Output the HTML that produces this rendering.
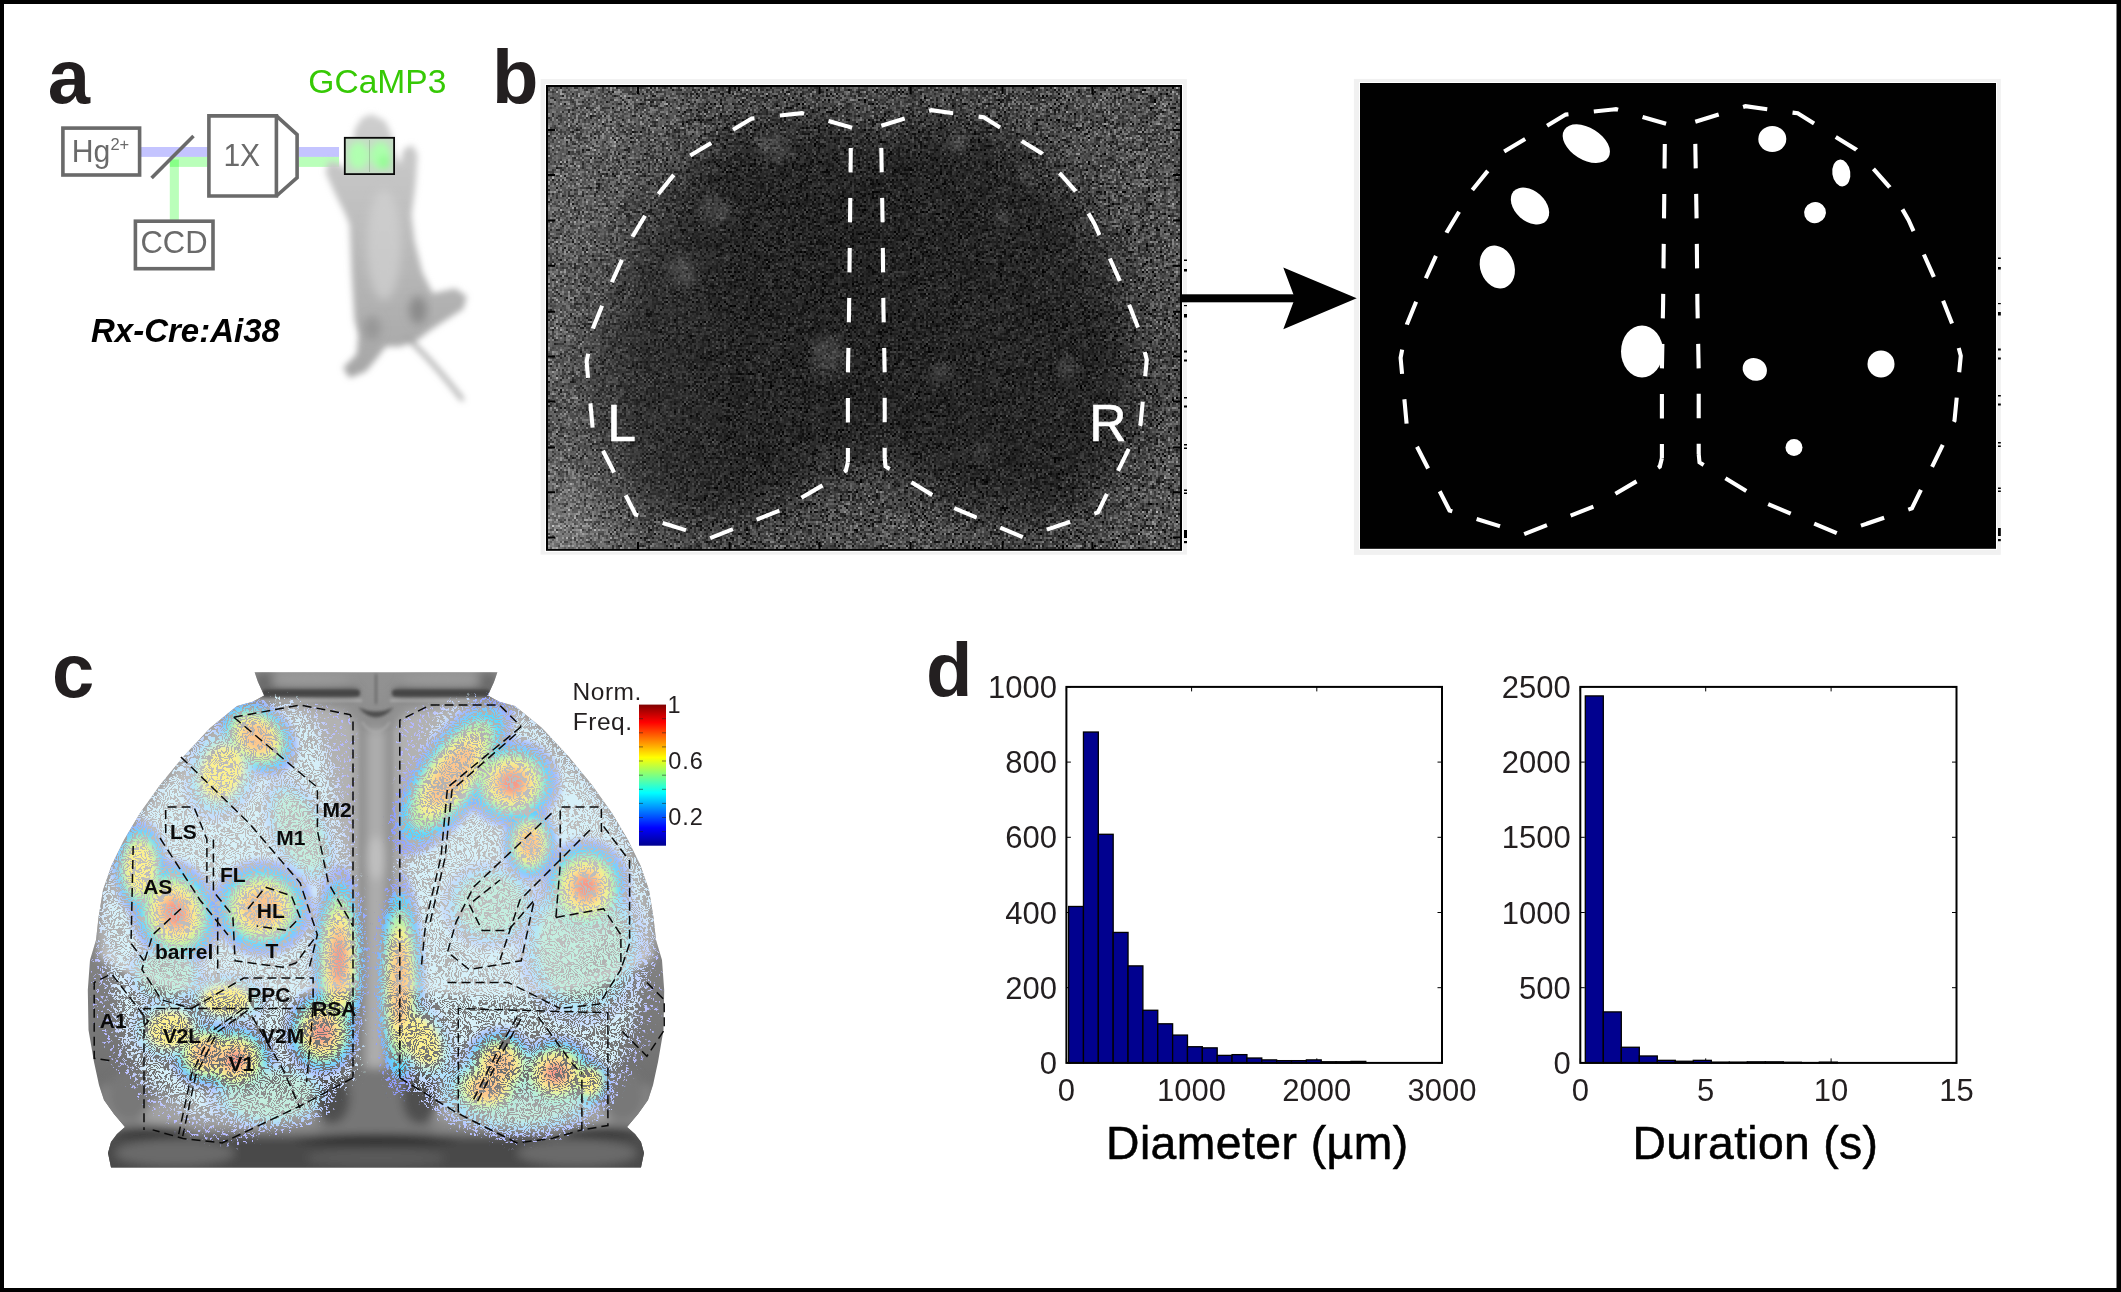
<!DOCTYPE html>
<html><head><meta charset="utf-8"><title>figure</title>
<style>
html,body{margin:0;padding:0;background:#fff;}
body{width:2121px;height:1292px;overflow:hidden;font-family:"Liberation Sans",sans-serif;}
svg{display:block;position:absolute;left:0;top:0;}
text{font-family:"Liberation Sans",sans-serif;}
</style></head><body>
<svg width="2121" height="1292" viewBox="0 0 2121 1292" style="opacity:0.9999">
<defs>
<filter id="noise" x="548" y="87" width="632" height="462" filterUnits="userSpaceOnUse" primitiveUnits="userSpaceOnUse" color-interpolation-filters="sRGB">
<feTurbulence type="fractalNoise" baseFrequency="0.737" numOctaves="2" seed="7" result="t"/>
<feColorMatrix in="t" type="matrix" values="1.18 0 0 0 -0.265  1.18 0 0 0 -0.265  1.18 0 0 0 -0.265  0 0 0 0 1" result="g"/>
<feFlood x="548" y="87" width="1" height="1" flood-color="#000" result="dot"/>
<feComposite in="dot" in2="dot" operator="over" x="548" y="87" width="2" height="2" result="cell"/>
<feTile in="cell" x="548" y="87" width="632" height="462" result="grid"/>
<feComposite in="g" in2="grid" operator="in" result="s"/>
<feOffset in="s" dx="1" dy="0" result="s1"/>
<feOffset in="s" dx="0" dy="1" result="s2"/>
<feOffset in="s" dx="1" dy="1" result="s3"/>
<feMerge result="pix"><feMergeNode in="s"/><feMergeNode in="s1"/><feMergeNode in="s2"/><feMergeNode in="s3"/></feMerge>
<feGaussianBlur in="pix" stdDeviation="0.35"/>
</filter>
<radialGradient id="dark" cx="0.5" cy="0.5" r="0.75">
<stop offset="0" stop-color="#000" stop-opacity="0.12"/>
<stop offset="0.7" stop-color="#000" stop-opacity="0.08"/>
<stop offset="1" stop-color="#000" stop-opacity="0"/>
</radialGradient>
<linearGradient id="lb" x1="0" y1="0" x2="1" y2="0"><stop offset="0" stop-color="#fff" stop-opacity="0.1"/><stop offset="1" stop-color="#fff" stop-opacity="0"/></linearGradient>
<filter id="nop" x="-5%" y="-20%" width="110%" height="140%"><feOffset dx="0" dy="0"/></filter>
<filter id="blur3"><feGaussianBlur stdDeviation="3"/></filter>
<filter id="blur5"><feGaussianBlur stdDeviation="5"/></filter>
<filter id="blur8"><feGaussianBlur stdDeviation="8"/></filter>
<filter id="blur25" x="-20%" y="-20%" width="140%" height="140%"><feGaussianBlur stdDeviation="26"/></filter>
<filter id="blur12"><feGaussianBlur stdDeviation="12"/></filter>
<linearGradient id="jet" x1="0" y1="1" x2="0" y2="0">
<stop offset="0" stop-color="#00008f"/><stop offset="0.125" stop-color="#0000ff"/><stop offset="0.375" stop-color="#00ffff"/><stop offset="0.625" stop-color="#ffff00"/><stop offset="0.875" stop-color="#ff0000"/><stop offset="1" stop-color="#800000"/>
</linearGradient>
</defs>

<rect x="0" y="0" width="2121" height="1292" fill="#000"/>
<rect x="4" y="4" width="2112.5" height="1284" fill="#fff"/>
<text x="47.7" y="103.4" font-size="76" font-weight="bold" fill="#231f20">a</text>
<text x="491.9" y="103.3" font-size="76" font-weight="bold" fill="#231f20">b</text>
<text x="51.9" y="697.4" font-size="76" font-weight="bold" fill="#231f20">c</text>
<text x="925.9" y="695.8" font-size="76" font-weight="bold" fill="#231f20">d</text>
<rect x="141" y="147" width="67" height="9.9" fill="#0000ff" fill-opacity="0.23"/>
<rect x="299" y="147" width="40" height="9.9" fill="#0000ff" fill-opacity="0.23"/>
<rect x="169.8" y="156.9" width="38" height="10" fill="#00ff00" fill-opacity="0.27"/>
<rect x="299" y="156.9" width="40" height="10" fill="#00ff00" fill-opacity="0.27"/>
<rect x="169.8" y="159.5" width="9.1" height="61" fill="#00ff00" fill-opacity="0.27"/>
<rect x="62.9" y="128.1" width="76.7" height="46.9" fill="#fff" stroke="#6a6a6a" stroke-width="3.6"/>
<rect x="135.4" y="221.2" width="77.6" height="47.5" fill="#fff" stroke="#6a6a6a" stroke-width="3.6"/>
<path d="M276.4 115.9 L297.1 134.6 V177.6 L276.4 196" fill="#fff" stroke="#6a6a6a" stroke-width="3.6" stroke-linejoin="miter"/>
<path d="M208.9 115.9 H276.4 V196 H208.9 Z" fill="#fff" stroke="#6a6a6a" stroke-width="3.6"/>
<line x1="193.5" y1="136.1" x2="151.6" y2="178.1" stroke="#6a6a6a" stroke-width="3.6"/>
<g filter="url(#nop)">
<text transform="translate(71.8 161.9) scale(1 1.04)" font-size="30.2" fill="#6a6a6a">Hg<tspan font-size="16.5" dy="-11">2+</tspan></text>
<text transform="translate(140.4 253.3) scale(1 1.02)" font-size="31" fill="#6a6a6a">CCD</text>
<text transform="translate(223.4 166.2) scale(1 1.06)" font-size="30" fill="#6a6a6a">1X</text>
<text x="308.3" y="92.6" font-size="33.6" fill="#36c905">GCaMP3</text>
<text x="91" y="341.5" font-size="33" font-weight="bold" font-style="italic" fill="#000">Rx-Cre:Ai38</text>
</g>
<linearGradient id="mg" x1="0" y1="0" x2="0" y2="1"><stop offset="0" stop-color="#cecece"/><stop offset="0.5" stop-color="#bababa"/><stop offset="1" stop-color="#a6a6a6"/></linearGradient>
<g filter="url(#blur3)">
<path d="M372 116 L384 122 L390 135 L392 150 L400 170 L405 150 L412 147 L416 155 L414 185 L410 215 L413 240 L421 273 L432 295 L455 290 L465 297 L462 308 L440 322 L428 330 L415 340 L400 345 L385 345 L375 358 L365 370 L350 376 L345 368 L358 355 L360 335 L356 320 L353 273 L351 224 L345 210 L335 190 L327 172 L330 163 L340 166 L350 175 L354 150 L356 130 L363 119 Z" fill="url(#mg)" stroke="url(#mg)" stroke-width="3" stroke-linejoin="round"/>
<path d="M406 337 Q430 358 462 399" fill="none" stroke="#a4a4a4" stroke-width="4" stroke-linecap="round"/>
</g>
<g filter="url(#blur5)"><ellipse cx="418" cy="310" rx="9" ry="14" fill="#7a7a7a" fill-opacity="0.7"/><ellipse cx="372" cy="328" rx="9" ry="12" fill="#888" fill-opacity="0.6"/><ellipse cx="384" cy="245" rx="17" ry="55" fill="#d2d2d2" fill-opacity="0.7"/></g>
<rect x="345" y="138" width="49" height="36" fill="#c6dcc6"/>
<g filter="url(#blur3)"><ellipse cx="358.5" cy="155.5" rx="10" ry="13.5" fill="#b0ffb0"/><ellipse cx="380.5" cy="155.5" rx="10" ry="13.5" fill="#acffac"/><ellipse cx="384" cy="162" rx="6" ry="7" fill="#98fb98"/></g>
<line x1="369.5" y1="140" x2="369.5" y2="172" stroke="#7fa07f" stroke-width="0.7" stroke-opacity="0.7"/>
<rect x="344.8" y="137.8" width="49.3" height="36.3" fill="none" stroke="#0a0a0a" stroke-width="1.8"/>
<rect x="540.6" y="79.1" width="646.3" height="475.5" fill="#f1f1f1"/>
<rect x="545" y="84" width="638" height="467.8" fill="#fff"/>
<rect x="546" y="85" width="636" height="465.8" fill="#000"/>
<svg x="548" y="87" width="632" height="462" viewBox="548 87 632 462"><rect x="548" y="87" width="632" height="462" filter="url(#noise)"/><g filter="url(#blur25)" fill="#000" fill-opacity="0.5"><path d="M852.1 127.8 L801.9 113.2 L751.7 118.6 L689.0 156.2 L657.7 194.7 L632.6 236.5 L611.7 282.5 L592.9 328.4 L586.6 361.9 L592.9 430.9 L635.5 514.5 L684.8 529.9 L709.9 538.3 L780.2 510.3 L822.8 485.2 L845.8 470.6 L847.9 462.2 Z"/><path d="M881.3 125.7 L931.5 110.2 L983.7 117.3 L1042.3 153.7 L1075.7 191.3 L1094.5 223.9 L1119.6 280.4 L1138.4 328.4 L1146.8 359.8 L1140.5 424.6 L1097.9 512.4 L1023.5 537.5 L952.4 507.4 L885.5 466.4 L884.7 458.0 Z"/><rect x="846" y="135" width="42" height="335"/></g><rect x="548" y="87" width="632" height="462" fill="url(#dark)"/><g filter="url(#blur5)" fill="#fff" fill-opacity="0.13"><ellipse cx="772" cy="148" rx="20" ry="12" transform="rotate(32 772 148)"/><ellipse cx="716" cy="210" rx="17" ry="12" transform="rotate(42 716 210)"/><ellipse cx="683" cy="271" rx="13" ry="17" transform="rotate(-20 683 271)"/><ellipse cx="828" cy="355" rx="16" ry="20" transform="rotate(0 828 355)"/><ellipse cx="958" cy="143" rx="11" ry="10" transform="rotate(0 958 143)"/><ellipse cx="1027" cy="177" rx="7" ry="10" transform="rotate(0 1027 177)"/><ellipse cx="1001" cy="217" rx="9" ry="8" transform="rotate(0 1001 217)"/><ellipse cx="941" cy="373" rx="10" ry="9" transform="rotate(0 941 373)"/><ellipse cx="1067" cy="368" rx="10" ry="10" transform="rotate(0 1067 368)"/><ellipse cx="980" cy="451" rx="7" ry="7" transform="rotate(0 980 451)"/></g><rect x="548" y="87" width="200" height="462.5" fill="url(#lb)"/><ellipse cx="548" cy="549" rx="60" ry="70" fill="#fff" fill-opacity="0.14" filter="url(#blur25)"/></svg>
<path d="M638 87 v7 M638 549 v-7" stroke="#000" stroke-width="2"/>
<path d="M729.6 87 v7 M729.6 549 v-7" stroke="#000" stroke-width="2"/>
<path d="M819.5 87 v7 M819.5 549 v-7" stroke="#000" stroke-width="2"/>
<path d="M910.6 87 v7 M910.6 549 v-7" stroke="#000" stroke-width="2"/>
<path d="M1002.6 87 v7 M1002.6 549 v-7" stroke="#000" stroke-width="2"/>
<path d="M1092.4 87 v7 M1092.4 549 v-7" stroke="#000" stroke-width="2"/>
<path d="M548 129.9 h7 M1180 129.9 h-7" stroke="#000" stroke-width="2"/>
<path d="M548 175 h7 M1180 175 h-7" stroke="#000" stroke-width="2"/>
<path d="M548 220.6 h7 M1180 220.6 h-7" stroke="#000" stroke-width="2"/>
<path d="M548 265.7 h7 M1180 265.7 h-7" stroke="#000" stroke-width="2"/>
<path d="M548 311.7 h7 M1180 311.7 h-7" stroke="#000" stroke-width="2"/>
<path d="M548 356.5 h7 M1180 356.5 h-7" stroke="#000" stroke-width="2"/>
<path d="M548 401.6 h7 M1180 401.6 h-7" stroke="#000" stroke-width="2"/>
<path d="M548 447.6 h7 M1180 447.6 h-7" stroke="#000" stroke-width="2"/>
<path d="M548 492.3 h7 M1180 492.3 h-7" stroke="#000" stroke-width="2"/>
<path d="M548 537.5 h7 M1180 537.5 h-7" stroke="#000" stroke-width="2"/>
<rect x="1353.9" y="78.9" width="646.9" height="476" fill="#f1f1f1"/>
<rect x="1359" y="82" width="638" height="467.8" fill="#fff"/>
<rect x="1360" y="83" width="636" height="465.8" fill="#000"/>
<g fill="#fff">
<clipPath id="bc"><rect x="1600" y="300" width="62" height="100"/></clipPath>
<g><ellipse cx="1586.3" cy="143.7" rx="26" ry="16" transform="rotate(32 1586.3 143.7)"/></g>
<g><ellipse cx="1530" cy="206" rx="22" ry="15" transform="rotate(42 1530 206)"/></g>
<g><ellipse cx="1497.3" cy="267" rx="17" ry="22" transform="rotate(-20 1497.3 267)"/></g>
<g clip-path="url(#bc)"><ellipse cx="1642" cy="351.4" rx="21" ry="26" transform="rotate(0 1642 351.4)"/></g>
<g><ellipse cx="1772.3" cy="139" rx="14" ry="13" transform="rotate(0 1772.3 139)"/></g>
<g><ellipse cx="1841.3" cy="173" rx="9" ry="13.5" transform="rotate(-8 1841.3 173)"/></g>
<g><ellipse cx="1815" cy="212.6" rx="11" ry="10.5" transform="rotate(-20 1815 212.6)"/></g>
<g><ellipse cx="1754.8" cy="369.4" rx="12.5" ry="11" transform="rotate(30 1754.8 369.4)"/></g>
<g><ellipse cx="1881" cy="364" rx="13.5" ry="13.5" transform="rotate(0 1881 364)"/></g>
<g><ellipse cx="1794" cy="447.5" rx="8.5" ry="8.5" transform="rotate(0 1794 447.5)"/></g>
</g>
<path d="M852.1 127.8 L801.9 113.2 L751.7 118.6 L689.0 156.2 L657.7 194.7 L632.6 236.5 L611.7 282.5 L592.9 328.4 L586.6 361.9 L592.9 430.9 L635.5 514.5 L684.8 529.9 L709.9 538.3 L780.2 510.3 L822.8 485.2 L845.8 470.6 L847.9 462.2" fill="none" stroke="#fff" stroke-width="4.1" stroke-dasharray="24.5 25.5"/>
<path d="M881.3 125.7 L931.5 110.2 L983.7 117.3 L1042.3 153.7 L1075.7 191.3 L1094.5 223.9 L1119.6 280.4 L1138.4 328.4 L1146.8 359.8 L1140.5 424.6 L1097.9 512.4 L1023.5 537.5 L952.4 507.4 L885.5 466.4 L884.7 458.0" fill="none" stroke="#fff" stroke-width="4.1" stroke-dasharray="24.5 25.5"/>
<path d="M850.8 147.9 L850.0 223.9 L849.1 307.5 L847.9 374.4 L847.9 462.2" fill="none" stroke="#fff" stroke-width="4.1" stroke-dasharray="24.5 25.5"/>
<path d="M881.3 147.9 L882.6 223.9 L883.4 307.5 L884.7 374.4 L884.7 458.0" fill="none" stroke="#fff" stroke-width="4.1" stroke-dasharray="24.5 25.5"/>
<path d="M1666.1 123.8 L1615.9 109.2 L1565.7 114.6 L1503.0 152.2 L1471.7 190.7 L1446.6 232.5 L1425.7 278.5 L1406.9 324.4 L1400.6 357.9 L1406.9 426.9 L1449.5 510.5 L1498.8 525.9 L1523.9 534.3 L1594.2 506.3 L1636.8 481.2 L1659.8 466.6 L1661.9 458.2" fill="none" stroke="#fff" stroke-width="4.1" stroke-dasharray="24.5 25.5"/>
<path d="M1695.3 121.7 L1745.5 106.2 L1797.7 113.3 L1856.3 149.7 L1889.7 187.3 L1908.5 219.9 L1933.6 276.4 L1952.4 324.4 L1960.8 355.8 L1954.5 420.6 L1911.9 508.4 L1837.5 533.5 L1766.4 503.4 L1699.5 462.4 L1698.7 454.0" fill="none" stroke="#fff" stroke-width="4.1" stroke-dasharray="24.5 25.5"/>
<path d="M1664.8 143.9 L1664.0 219.9 L1663.1 303.5 L1661.9 370.4 L1661.9 458.2" fill="none" stroke="#fff" stroke-width="4.1" stroke-dasharray="24.5 25.5"/>
<path d="M1695.3 143.9 L1696.6 219.9 L1697.4 303.5 L1698.7 370.4 L1698.7 454.0" fill="none" stroke="#fff" stroke-width="4.1" stroke-dasharray="24.5 25.5"/>
<rect x="1184" y="259.5" width="3" height="1.5" fill="#000"/>
<rect x="1998" y="257.5" width="2.8" height="1.5" fill="#000"/>
<rect x="1184" y="269" width="3" height="2.5" fill="#000"/>
<rect x="1998" y="267" width="2.8" height="2.5" fill="#000"/>
<rect x="1184" y="305" width="3" height="1.2" fill="#000"/>
<rect x="1998" y="303" width="2.8" height="1.2" fill="#000"/>
<rect x="1184" y="314" width="3" height="3.5" fill="#000"/>
<rect x="1998" y="312" width="2.8" height="3.5" fill="#000"/>
<rect x="1184" y="350.5" width="3" height="2" fill="#000"/>
<rect x="1998" y="348.5" width="2.8" height="2" fill="#000"/>
<rect x="1184" y="359.5" width="3" height="2" fill="#000"/>
<rect x="1998" y="357.5" width="2.8" height="2" fill="#000"/>
<rect x="1184" y="397" width="3" height="1.5" fill="#000"/>
<rect x="1998" y="395" width="2.8" height="1.5" fill="#000"/>
<rect x="1184" y="405.5" width="3" height="2" fill="#000"/>
<rect x="1998" y="403.5" width="2.8" height="2" fill="#000"/>
<rect x="1184" y="444" width="3" height="1.5" fill="#000"/>
<rect x="1998" y="442" width="2.8" height="1.5" fill="#000"/>
<rect x="1184" y="447.5" width="3" height="1.5" fill="#000"/>
<rect x="1998" y="445.5" width="2.8" height="1.5" fill="#000"/>
<rect x="1184" y="489.5" width="3" height="1.5" fill="#000"/>
<rect x="1998" y="487.5" width="2.8" height="1.5" fill="#000"/>
<rect x="1184" y="492.5" width="3" height="1.5" fill="#000"/>
<rect x="1998" y="490.5" width="2.8" height="1.5" fill="#000"/>
<rect x="1184" y="530" width="3" height="8" fill="#000"/>
<rect x="1998" y="528" width="2.8" height="8" fill="#000"/>
<rect x="1184" y="541" width="3" height="2.2" fill="#000"/>
<rect x="1998" y="539" width="2.8" height="2.2" fill="#000"/>
<text x="607.3" y="441.3" font-size="51.6" fill="#fff" stroke="#fff" stroke-width="0.6">L</text>
<text x="1089.3" y="441.3" font-size="51.6" fill="#fff" stroke="#fff" stroke-width="0.6">R</text>
<rect x="1182" y="294.3" width="114" height="8" fill="#000"/>
<path d="M1283.3 267.4 L1356.7 298.3 L1283.3 329.2 L1294.9 298.3 Z" fill="#000"/>
<line x1="1066.4" y1="1062.9" x2="1066.4" y2="1058.4" stroke="#000" stroke-width="1"/>
<line x1="1066.4" y1="686.9" x2="1066.4" y2="691.4" stroke="#000" stroke-width="1"/>
<text x="1066.4" y="1100.5" font-size="31" text-anchor="middle" fill="#231f20">0</text>
<line x1="1191.6" y1="1062.9" x2="1191.6" y2="1058.4" stroke="#000" stroke-width="1"/>
<line x1="1191.6" y1="686.9" x2="1191.6" y2="691.4" stroke="#000" stroke-width="1"/>
<text x="1191.6" y="1100.5" font-size="31" text-anchor="middle" fill="#231f20">1000</text>
<line x1="1316.8" y1="1062.9" x2="1316.8" y2="1058.4" stroke="#000" stroke-width="1"/>
<line x1="1316.8" y1="686.9" x2="1316.8" y2="691.4" stroke="#000" stroke-width="1"/>
<text x="1316.8" y="1100.5" font-size="31" text-anchor="middle" fill="#231f20">2000</text>
<line x1="1442.0" y1="1062.9" x2="1442.0" y2="1058.4" stroke="#000" stroke-width="1"/>
<line x1="1442.0" y1="686.9" x2="1442.0" y2="691.4" stroke="#000" stroke-width="1"/>
<text x="1442.0" y="1100.5" font-size="31" text-anchor="middle" fill="#231f20">3000</text>
<line x1="1066.4" y1="1062.9" x2="1070.9" y2="1062.9" stroke="#000" stroke-width="1"/>
<line x1="1442" y1="1062.9" x2="1437.5" y2="1062.9" stroke="#000" stroke-width="1"/>
<text x="1056.9" y="1073.9" font-size="31" text-anchor="end" fill="#231f20">0</text>
<line x1="1066.4" y1="987.7" x2="1070.9" y2="987.7" stroke="#000" stroke-width="1"/>
<line x1="1442" y1="987.7" x2="1437.5" y2="987.7" stroke="#000" stroke-width="1"/>
<text x="1056.9" y="998.7" font-size="31" text-anchor="end" fill="#231f20">200</text>
<line x1="1066.4" y1="912.5" x2="1070.9" y2="912.5" stroke="#000" stroke-width="1"/>
<line x1="1442" y1="912.5" x2="1437.5" y2="912.5" stroke="#000" stroke-width="1"/>
<text x="1056.9" y="923.5" font-size="31" text-anchor="end" fill="#231f20">400</text>
<line x1="1066.4" y1="837.3" x2="1070.9" y2="837.3" stroke="#000" stroke-width="1"/>
<line x1="1442" y1="837.3" x2="1437.5" y2="837.3" stroke="#000" stroke-width="1"/>
<text x="1056.9" y="848.3" font-size="31" text-anchor="end" fill="#231f20">600</text>
<line x1="1066.4" y1="762.1" x2="1070.9" y2="762.1" stroke="#000" stroke-width="1"/>
<line x1="1442" y1="762.1" x2="1437.5" y2="762.1" stroke="#000" stroke-width="1"/>
<text x="1056.9" y="773.1" font-size="31" text-anchor="end" fill="#231f20">800</text>
<line x1="1066.4" y1="686.9" x2="1070.9" y2="686.9" stroke="#000" stroke-width="1"/>
<line x1="1442" y1="686.9" x2="1437.5" y2="686.9" stroke="#000" stroke-width="1"/>
<text x="1056.9" y="697.9" font-size="31" text-anchor="end" fill="#231f20">1000</text>
<rect x="1068.60" y="906.48" width="14.86" height="156.42" fill="#00008f" stroke="#000" stroke-width="1.3"/>
<rect x="1083.46" y="732.02" width="14.86" height="330.88" fill="#00008f" stroke="#000" stroke-width="1.3"/>
<rect x="1098.32" y="834.29" width="14.86" height="228.61" fill="#00008f" stroke="#000" stroke-width="1.3"/>
<rect x="1113.18" y="932.43" width="14.86" height="130.47" fill="#00008f" stroke="#000" stroke-width="1.3"/>
<rect x="1128.04" y="965.89" width="14.86" height="97.01" fill="#00008f" stroke="#000" stroke-width="1.3"/>
<rect x="1142.90" y="1010.26" width="14.86" height="52.64" fill="#00008f" stroke="#000" stroke-width="1.3"/>
<rect x="1157.76" y="1023.80" width="14.86" height="39.10" fill="#00008f" stroke="#000" stroke-width="1.3"/>
<rect x="1172.62" y="1035.08" width="14.86" height="27.82" fill="#00008f" stroke="#000" stroke-width="1.3"/>
<rect x="1187.48" y="1046.73" width="14.86" height="16.17" fill="#00008f" stroke="#000" stroke-width="1.3"/>
<rect x="1202.34" y="1047.86" width="14.86" height="15.04" fill="#00008f" stroke="#000" stroke-width="1.3"/>
<rect x="1217.20" y="1055.38" width="14.86" height="7.52" fill="#00008f" stroke="#000" stroke-width="1.3"/>
<rect x="1232.06" y="1054.63" width="14.86" height="8.27" fill="#00008f" stroke="#000" stroke-width="1.3"/>
<rect x="1246.92" y="1058.01" width="14.86" height="4.89" fill="#00008f" stroke="#000" stroke-width="1.3"/>
<rect x="1261.78" y="1059.89" width="14.86" height="3.01" fill="#00008f" stroke="#000" stroke-width="1.3"/>
<rect x="1276.64" y="1060.64" width="14.86" height="2.26" fill="#00008f" stroke="#000" stroke-width="1.3"/>
<rect x="1291.50" y="1060.64" width="14.86" height="2.26" fill="#00008f" stroke="#000" stroke-width="1.3"/>
<rect x="1306.36" y="1059.89" width="14.86" height="3.01" fill="#00008f" stroke="#000" stroke-width="1.3"/>
<rect x="1321.22" y="1061.77" width="14.86" height="1.13" fill="#00008f" stroke="#000" stroke-width="1.3"/>
<rect x="1336.08" y="1061.77" width="14.86" height="1.13" fill="#00008f" stroke="#000" stroke-width="1.3"/>
<rect x="1350.94" y="1061.40" width="14.86" height="1.50" fill="#00008f" stroke="#000" stroke-width="1.3"/>
<rect x="1066.4" y="686.9" width="375.5999999999999" height="376.0000000000001" fill="none" stroke="#000" stroke-width="2"/>
<text x="1106" y="1158.5" font-size="46.3" letter-spacing="0.45" fill="#000" stroke="#000" stroke-width="0.55">Diameter (µm)</text>
<line x1="1580.3" y1="1062.9" x2="1580.3" y2="1058.4" stroke="#000" stroke-width="1"/>
<line x1="1580.3" y1="686.9" x2="1580.3" y2="691.4" stroke="#000" stroke-width="1"/>
<text x="1580.3" y="1100.5" font-size="31" text-anchor="middle" fill="#231f20">0</text>
<line x1="1705.7" y1="1062.9" x2="1705.7" y2="1058.4" stroke="#000" stroke-width="1"/>
<line x1="1705.7" y1="686.9" x2="1705.7" y2="691.4" stroke="#000" stroke-width="1"/>
<text x="1705.7" y="1100.5" font-size="31" text-anchor="middle" fill="#231f20">5</text>
<line x1="1831.1" y1="1062.9" x2="1831.1" y2="1058.4" stroke="#000" stroke-width="1"/>
<line x1="1831.1" y1="686.9" x2="1831.1" y2="691.4" stroke="#000" stroke-width="1"/>
<text x="1831.1" y="1100.5" font-size="31" text-anchor="middle" fill="#231f20">10</text>
<line x1="1956.5" y1="1062.9" x2="1956.5" y2="1058.4" stroke="#000" stroke-width="1"/>
<line x1="1956.5" y1="686.9" x2="1956.5" y2="691.4" stroke="#000" stroke-width="1"/>
<text x="1956.5" y="1100.5" font-size="31" text-anchor="middle" fill="#231f20">15</text>
<line x1="1580.3" y1="1062.9" x2="1584.8" y2="1062.9" stroke="#000" stroke-width="1"/>
<line x1="1956.5" y1="1062.9" x2="1952.0" y2="1062.9" stroke="#000" stroke-width="1"/>
<text x="1570.8" y="1073.9" font-size="31" text-anchor="end" fill="#231f20">0</text>
<line x1="1580.3" y1="987.7" x2="1584.8" y2="987.7" stroke="#000" stroke-width="1"/>
<line x1="1956.5" y1="987.7" x2="1952.0" y2="987.7" stroke="#000" stroke-width="1"/>
<text x="1570.8" y="998.7" font-size="31" text-anchor="end" fill="#231f20">500</text>
<line x1="1580.3" y1="912.5" x2="1584.8" y2="912.5" stroke="#000" stroke-width="1"/>
<line x1="1956.5" y1="912.5" x2="1952.0" y2="912.5" stroke="#000" stroke-width="1"/>
<text x="1570.8" y="923.5" font-size="31" text-anchor="end" fill="#231f20">1000</text>
<line x1="1580.3" y1="837.3" x2="1584.8" y2="837.3" stroke="#000" stroke-width="1"/>
<line x1="1956.5" y1="837.3" x2="1952.0" y2="837.3" stroke="#000" stroke-width="1"/>
<text x="1570.8" y="848.3" font-size="31" text-anchor="end" fill="#231f20">1500</text>
<line x1="1580.3" y1="762.1" x2="1584.8" y2="762.1" stroke="#000" stroke-width="1"/>
<line x1="1956.5" y1="762.1" x2="1952.0" y2="762.1" stroke="#000" stroke-width="1"/>
<text x="1570.8" y="773.1" font-size="31" text-anchor="end" fill="#231f20">2000</text>
<line x1="1580.3" y1="686.9" x2="1584.8" y2="686.9" stroke="#000" stroke-width="1"/>
<line x1="1956.5" y1="686.9" x2="1952.0" y2="686.9" stroke="#000" stroke-width="1"/>
<text x="1570.8" y="697.9" font-size="31" text-anchor="end" fill="#231f20">2500</text>
<rect x="1585.30" y="695.92" width="18.00" height="366.98" fill="#00008f" stroke="#000" stroke-width="1.3"/>
<rect x="1603.30" y="1011.91" width="18.00" height="50.99" fill="#00008f" stroke="#000" stroke-width="1.3"/>
<rect x="1621.30" y="1047.26" width="18.00" height="15.64" fill="#00008f" stroke="#000" stroke-width="1.3"/>
<rect x="1639.30" y="1055.98" width="18.00" height="6.92" fill="#00008f" stroke="#000" stroke-width="1.3"/>
<rect x="1657.30" y="1060.34" width="18.00" height="2.56" fill="#00008f" stroke="#000" stroke-width="1.3"/>
<rect x="1675.30" y="1061.25" width="18.00" height="1.65" fill="#00008f" stroke="#000" stroke-width="1.3"/>
<rect x="1693.30" y="1060.34" width="18.00" height="2.56" fill="#00008f" stroke="#000" stroke-width="1.3"/>
<rect x="1711.30" y="1062.15" width="18.00" height="0.75" fill="#00008f" stroke="#000" stroke-width="1.3"/>
<rect x="1729.30" y="1062.15" width="18.00" height="0.75" fill="#00008f" stroke="#000" stroke-width="1.3"/>
<rect x="1747.30" y="1061.85" width="18.00" height="1.05" fill="#00008f" stroke="#000" stroke-width="1.3"/>
<rect x="1765.30" y="1061.85" width="18.00" height="1.05" fill="#00008f" stroke="#000" stroke-width="1.3"/>
<rect x="1783.30" y="1062.30" width="18.00" height="0.60" fill="#00008f" stroke="#000" stroke-width="1.3"/>
<rect x="1801.30" y="1062.60" width="18.00" height="0.30" fill="#00008f" stroke="#000" stroke-width="1.3"/>
<rect x="1819.30" y="1062.15" width="18.00" height="0.75" fill="#00008f" stroke="#000" stroke-width="1.3"/>
<rect x="1580.3" y="686.9" width="376.20000000000005" height="376.0000000000001" fill="none" stroke="#000" stroke-width="2"/>
<text x="1632.5" y="1158.5" font-size="46.3" letter-spacing="0.33" fill="#000" stroke="#000" stroke-width="0.55">Duration (s)</text>
<defs>
<linearGradient id="bg1" x1="0" y1="0" x2="0" y2="1">
<stop offset="0" stop-color="#929292"/><stop offset="0.55" stop-color="#848484"/><stop offset="0.85" stop-color="#6e6e6e"/><stop offset="1" stop-color="#505050"/>
</linearGradient>
<filter id="veil" x="-5%" y="-5%" width="110%" height="110%" color-interpolation-filters="sRGB">
<feTurbulence type="fractalNoise" baseFrequency="0.27" numOctaves="3" seed="3" result="n"/>
<feColorMatrix in="n" type="matrix" values="0 0 0 0 1  0 0 0 0 1  0 0 0 0 1  1 0 0 0 0" result="m"/>
<feComposite in="m" in2="SourceGraphic" operator="arithmetic" k1="0" k2="14" k3="4.94" k4="-9.48" result="t"/>
<feColorMatrix in="t" type="matrix" values="0 0 0 0 0  0 0 0 0 0  0 0 0 0 0  0 0 0 1 0" result="mask"/>
<feTurbulence type="fractalNoise" baseFrequency="0.022" numOctaves="4" seed="11" result="n2"/>
<feColorMatrix in="n2" type="matrix" values="0 0 0 0 0  0 0 0 0 0  0 0 0 0 0  1.667 0 0 0 -0.333" result="c0"/>
<feComponentTransfer in="c0" result="cont"><feFuncA type="discrete" tableValues="1 1 0 1 1 0 1 1 0 1 1 0 1 1 0 1 1 0 1 1 0 1 1 0 1 1 0 1 1 0 1 1 0 1 1 0 1 1 0 1"/></feComponentTransfer>
<feComposite in="mask" in2="cont" operator="in" result="mask2"/>
<feComponentTransfer in="SourceGraphic" result="solid"><feFuncA type="linear" slope="8"/></feComponentTransfer>
<feComposite in="solid" in2="mask2" operator="in"/>
</filter>
<clipPath id="brainclip"><path id="brainpath" d="M376.0 672.3 L254.6 672.3 L258.0 682.0 L264.2 695.5 L252.6 701.7 L237.0 706.0 L210.0 728.0 L183.0 757.0 L160.0 785.0 L139.7 813.4 L124.0 840.0 L111.5 865.4 L103.0 890.0 L98.5 917.4 L96.0 940.0 L90.0 960.0 L87.8 990.0 L88.5 1030.0 L94.0 1062.0 L99.0 1085.0 L104.0 1100.0 L114.0 1114.0 L125.0 1127.0 L117.0 1134.0 L111.0 1142.0 L108.0 1153.0 L111.0 1167.5 L376.0 1167.5 L641.0 1167.5 L644.0 1153.0 L641.0 1142.0 L635.0 1134.0 L627.0 1127.0 L638.0 1114.0 L648.0 1100.0 L653.0 1085.0 L658.0 1062.0 L663.5 1030.0 L664.2 990.0 L662.0 960.0 L656.0 940.0 L653.5 917.4 L649.0 890.0 L640.5 865.4 L628.0 840.0 L612.3 813.4 L592.0 785.0 L569.0 757.0 L542.0 728.0 L515.0 706.0 L499.4 701.7 L487.8 695.5 L494.0 682.0 L497.4 672.3 Z"/></clipPath>
</defs>
<path d="M376.0 672.3 L254.6 672.3 L258.0 682.0 L264.2 695.5 L252.6 701.7 L237.0 706.0 L210.0 728.0 L183.0 757.0 L160.0 785.0 L139.7 813.4 L124.0 840.0 L111.5 865.4 L103.0 890.0 L98.5 917.4 L96.0 940.0 L90.0 960.0 L87.8 990.0 L88.5 1030.0 L94.0 1062.0 L99.0 1085.0 L104.0 1100.0 L114.0 1114.0 L125.0 1127.0 L117.0 1134.0 L111.0 1142.0 L108.0 1153.0 L111.0 1167.5 L376.0 1167.5 L641.0 1167.5 L644.0 1153.0 L641.0 1142.0 L635.0 1134.0 L627.0 1127.0 L638.0 1114.0 L648.0 1100.0 L653.0 1085.0 L658.0 1062.0 L663.5 1030.0 L664.2 990.0 L662.0 960.0 L656.0 940.0 L653.5 917.4 L649.0 890.0 L640.5 865.4 L628.0 840.0 L612.3 813.4 L592.0 785.0 L569.0 757.0 L542.0 728.0 L515.0 706.0 L499.4 701.7 L487.8 695.5 L494.0 682.0 L497.4 672.3 Z" fill="url(#bg1)"/>
<g clip-path="url(#brainclip)">
<g filter="url(#blur5)">
<path d="M237.0 706.0 L300.0 703.0 L345.0 712.0 L356.0 725.0 L357.0 984.0 L300.0 992.0 L230.0 992.0 L170.0 986.0 L130.0 972.0 L100.0 950.0 L96.0 940.0 L98.5 917.4 L103.0 890.0 L111.5 865.4 L124.0 840.0 L139.7 813.4 L160.0 785.0 L183.0 757.0 L210.0 728.0 Z" fill="#b2b2b2"/><path d="M515.0 706.0 L452.0 703.0 L407.0 712.0 L396.0 725.0 L395.0 984.0 L452.0 992.0 L522.0 992.0 L582.0 986.0 L622.0 972.0 L652.0 950.0 L656.0 940.0 L653.5 917.4 L649.0 890.0 L640.5 865.4 L628.0 840.0 L612.3 813.4 L592.0 785.0 L569.0 757.0 L542.0 728.0 Z" fill="#b2b2b2"/>
<path d="M100 952 Q130 975 175 986 Q240 996 357 986" fill="none" stroke="#e8e8e8" stroke-width="7" stroke-opacity="0.8"/>
<path d="M652 952 Q622 975 577 986 Q512 996 395 986" fill="none" stroke="#e8e8e8" stroke-width="7" stroke-opacity="0.8"/>
<ellipse cx="225" cy="870" rx="95" ry="110" fill="#d0d0d0" fill-opacity="0.35"/><ellipse cx="527" cy="870" rx="95" ry="110" fill="#d0d0d0" fill-opacity="0.35"/>
<rect x="360" y="700" width="32" height="400" fill="#8e8e8e"/>
<rect x="367" y="730" width="18" height="350" fill="#adadad"/>
<ellipse cx="376" cy="858" rx="9" ry="22" fill="#c0c0c0"/>
<rect x="268" y="689" width="90" height="8" rx="4" fill="#525252"/><rect x="394" y="689" width="90" height="8" rx="4" fill="#525252"/>
<rect x="255" y="672" width="20" height="30" fill="#6a6a6a"/><rect x="477" y="672" width="20" height="30" fill="#6a6a6a"/>
<ellipse cx="310" cy="680" rx="40" ry="7" fill="#9a9a9a"/><ellipse cx="442" cy="680" rx="40" ry="7" fill="#9a9a9a"/>
<rect x="100" y="1085" width="552" height="50" fill="#868686"/>
<ellipse cx="225" cy="1112" rx="95" ry="16" fill="#a2a2a2"/><ellipse cx="527" cy="1112" rx="95" ry="16" fill="#a2a2a2"/>
<ellipse cx="130" cy="1095" rx="22" ry="26" fill="#787878"/><ellipse cx="622" cy="1095" rx="22" ry="26" fill="#787878"/>
<path d="M361 1068 L391 1068 L436 1130 L316 1130 Z" fill="#767676"/>
<ellipse cx="332" cy="1098" rx="18" ry="26" fill="#505050"/><ellipse cx="420" cy="1098" rx="18" ry="26" fill="#505050"/>
<rect x="100" y="1136" width="552" height="36" fill="#4a4a4a"/>
<ellipse cx="376" cy="1139" rx="80" ry="6" fill="#2a2a2a"/>
<ellipse cx="175" cy="1153" rx="60" ry="13" fill="#6a6a6a"/><ellipse cx="577" cy="1153" rx="60" ry="13" fill="#6a6a6a"/>
<ellipse cx="376" cy="1158" rx="70" ry="9" fill="#5a5a5a"/>
<ellipse cx="150" cy="1132" rx="40" ry="5" fill="#303030"/><ellipse cx="602" cy="1132" rx="40" ry="5" fill="#303030"/>
</g>
<filter id="blur15"><feGaussianBlur stdDeviation="1.6"/></filter>
<g filter="url(#blur15)">
<rect x="262" y="689.5" width="98" height="7" rx="3.5" fill="#454545"/><rect x="392" y="689.5" width="98" height="7" rx="3.5" fill="#454545"/>
<path d="M256 700.5 H362 M390 700.5 H496" stroke="#cfcfcf" stroke-width="1.3" stroke-opacity="0.8" fill="none"/>
<path d="M358 707 Q376 728 394 707 Q376 716 358 707 Z" fill="#4e4e4e"/>
<path d="M362 722 Q376 742 390 722" stroke="#c0c0c0" stroke-width="1.2" fill="none" stroke-opacity="0.8"/>
<path d="M376 674 V704" stroke="#5a5a5a" stroke-width="1.5"/>
<path d="M357 730 V1060 M395 730 V1060" stroke="#c8c8c8" stroke-width="1" stroke-opacity="0.55" fill="none"/>
</g>
<g filter="url(#veil)">
<g filter="url(#blur3)">
<path d="M237.0 706.0 L300.0 703.0 L345.0 712.0 L354.0 725.0 L354.0 1078.0 L330.0 1100.0 L290.0 1130.0 L240.0 1146.0 L190.0 1136.0 L150.0 1110.0 L115.0 1068.0 L94.0 1015.0 L92.0 960.0 L98.5 917.4 L103.0 890.0 L111.5 865.4 L124.0 840.0 L139.7 813.4 L160.0 785.0 L183.0 757.0 L210.0 728.0 Z" fill="#b4b8ff" fill-opacity="0.32"/><path d="M515.0 706.0 L452.0 703.0 L407.0 712.0 L398.0 725.0 L398.0 1078.0 L422.0 1100.0 L462.0 1130.0 L512.0 1146.0 L562.0 1136.0 L602.0 1110.0 L637.0 1068.0 L658.0 1015.0 L660.0 960.0 L653.5 917.4 L649.0 890.0 L640.5 865.4 L628.0 840.0 L612.3 813.4 L592.0 785.0 L569.0 757.0 L542.0 728.0 Z" fill="#b4b8ff" fill-opacity="0.32"/>
</g>
<g filter="url(#blur8)">
<path d="M240.0 708.0 L288.0 706.0 L316.0 722.0 L328.0 760.0 L335.0 800.0 L341.0 840.0 L349.0 880.0 L353.0 920.0 L353.0 1068.0 L330.0 1088.0 L290.0 1112.0 L240.0 1122.0 L190.0 1112.0 L150.0 1085.0 L128.0 1050.0 L118.0 1010.0 L110.0 960.0 L100.0 925.0 L103.0 890.0 L111.5 865.4 L124.0 840.0 L139.7 813.4 L160.0 785.0 L183.0 757.0 L210.0 728.0 Z" fill="#d6f0f8"/><path d="M512.0 708.0 L464.0 706.0 L436.0 722.0 L424.0 760.0 L417.0 800.0 L411.0 840.0 L403.0 880.0 L399.0 920.0 L399.0 1068.0 L422.0 1088.0 L462.0 1112.0 L512.0 1122.0 L562.0 1112.0 L602.0 1085.0 L624.0 1050.0 L634.0 1010.0 L642.0 960.0 L652.0 925.0 L649.0 890.0 L640.5 865.4 L628.0 840.0 L612.3 813.4 L592.0 785.0 L569.0 757.0 L542.0 728.0 Z" fill="#d6f0f8"/>
</g>
<g filter="url(#blur3)">
<ellipse cx="256.8" cy="737.5" rx="44.7" ry="34.4" fill="#909cff" fill-opacity="0.70" transform="rotate(40 256.8 737.5)"/>
<ellipse cx="222" cy="772" rx="37.4" ry="51.0" fill="#b8c6ff" fill-opacity="0.52" transform="rotate(20 222 772)"/>
<ellipse cx="175" cy="913" rx="44.7" ry="55.0" fill="#909cff" fill-opacity="0.70" transform="rotate(-20 175 913)"/>
<ellipse cx="140" cy="868" rx="27.5" ry="48.2" fill="#909cff" fill-opacity="0.70"/>
<ellipse cx="262" cy="908" rx="51.6" ry="48.2" fill="#909cff" fill-opacity="0.70"/>
<ellipse cx="339" cy="960" rx="27.5" ry="94.6" fill="#909cff" fill-opacity="0.70"/>
<ellipse cx="322" cy="1032" rx="37.8" ry="44.7" fill="#909cff" fill-opacity="0.70"/>
<ellipse cx="235" cy="1060" rx="41.3" ry="37.8" fill="#909cff" fill-opacity="0.70"/>
<ellipse cx="207" cy="1054" rx="37.8" ry="34.4" fill="#909cff" fill-opacity="0.70"/>
<ellipse cx="170" cy="1030" rx="41.4" ry="34.5" fill="#b8c6ff" fill-opacity="0.52"/>
<ellipse cx="226" cy="1000" rx="44.2" ry="27.2" fill="#b8c6ff" fill-opacity="0.52"/>
<ellipse cx="300" cy="832" rx="30.1" ry="60.3" fill="#b8c6ff" fill-opacity="0.52" transform="rotate(-25 300 832)"/>
<ellipse cx="166" cy="974" rx="40.2" ry="33.5" fill="#b8c6ff" fill-opacity="0.52"/>
<ellipse cx="270" cy="1095" rx="65.0" ry="35.8" fill="#b8c6ff" fill-opacity="0.52"/>
<ellipse cx="452" cy="775" rx="37.8" ry="94.6" fill="#909cff" fill-opacity="0.70" transform="rotate(35 452 775)"/>
<ellipse cx="512" cy="783" rx="48.2" ry="44.7" fill="#909cff" fill-opacity="0.70"/>
<ellipse cx="530" cy="844" rx="27.5" ry="37.8" fill="#909cff" fill-opacity="0.70"/>
<ellipse cx="586" cy="887" rx="44.7" ry="48.2" fill="#909cff" fill-opacity="0.70"/>
<ellipse cx="400" cy="985" rx="24.1" ry="111.8" fill="#909cff" fill-opacity="0.70"/>
<ellipse cx="421" cy="1040" rx="31.0" ry="51.7" fill="#b8c6ff" fill-opacity="0.52" transform="rotate(-30 421 1040)"/>
<ellipse cx="500" cy="1065" rx="37.8" ry="37.8" fill="#909cff" fill-opacity="0.70"/>
<ellipse cx="487" cy="1088" rx="41.3" ry="31.0" fill="#909cff" fill-opacity="0.70"/>
<ellipse cx="556" cy="1073" rx="41.3" ry="37.8" fill="#909cff" fill-opacity="0.70"/>
<ellipse cx="582" cy="945" rx="66.0" ry="82.5" fill="#b8c6ff" fill-opacity="0.52"/>
<ellipse cx="491" cy="905" rx="50.2" ry="43.5" fill="#b8c6ff" fill-opacity="0.52"/>
<ellipse cx="520" cy="1090" rx="97.5" ry="48.8" fill="#b8c6ff" fill-opacity="0.52"/>
<ellipse cx="590" cy="1082" rx="20.6" ry="24.1" fill="#909cff" fill-opacity="0.70"/>
<ellipse cx="256.8" cy="737.5" rx="36.9" ry="28.4" fill="#50dcff" fill-opacity="0.90" transform="rotate(40 256.8 737.5)"/>
<ellipse cx="222" cy="772" rx="30.9" ry="42.1" fill="#a8ecf8" fill-opacity="0.68" transform="rotate(20 222 772)"/>
<ellipse cx="175" cy="913" rx="36.9" ry="45.4" fill="#50dcff" fill-opacity="0.90" transform="rotate(-20 175 913)"/>
<ellipse cx="140" cy="868" rx="22.7" ry="39.7" fill="#50dcff" fill-opacity="0.90"/>
<ellipse cx="262" cy="908" rx="42.6" ry="39.7" fill="#50dcff" fill-opacity="0.90"/>
<ellipse cx="339" cy="960" rx="22.7" ry="78.0" fill="#50dcff" fill-opacity="0.90"/>
<ellipse cx="322" cy="1032" rx="31.2" ry="36.9" fill="#50dcff" fill-opacity="0.90"/>
<ellipse cx="235" cy="1060" rx="34.1" ry="31.2" fill="#50dcff" fill-opacity="0.90"/>
<ellipse cx="207" cy="1054" rx="31.2" ry="28.4" fill="#50dcff" fill-opacity="0.90"/>
<ellipse cx="170" cy="1030" rx="34.2" ry="28.5" fill="#a8ecf8" fill-opacity="0.68"/>
<ellipse cx="226" cy="1000" rx="36.5" ry="22.4" fill="#a8ecf8" fill-opacity="0.68"/>
<ellipse cx="300" cy="832" rx="24.9" ry="49.7" fill="#a8ecf8" fill-opacity="0.68" transform="rotate(-25 300 832)"/>
<ellipse cx="166" cy="974" rx="33.2" ry="27.6" fill="#a8ecf8" fill-opacity="0.68"/>
<ellipse cx="270" cy="1095" rx="53.6" ry="29.5" fill="#a8ecf8" fill-opacity="0.68"/>
<ellipse cx="452" cy="775" rx="31.2" ry="78.0" fill="#50dcff" fill-opacity="0.90" transform="rotate(35 452 775)"/>
<ellipse cx="512" cy="783" rx="39.7" ry="36.9" fill="#50dcff" fill-opacity="0.90"/>
<ellipse cx="530" cy="844" rx="22.7" ry="31.2" fill="#50dcff" fill-opacity="0.90"/>
<ellipse cx="586" cy="887" rx="36.9" ry="39.7" fill="#50dcff" fill-opacity="0.90"/>
<ellipse cx="400" cy="985" rx="19.9" ry="92.2" fill="#50dcff" fill-opacity="0.90"/>
<ellipse cx="421" cy="1040" rx="25.6" ry="42.7" fill="#a8ecf8" fill-opacity="0.68" transform="rotate(-30 421 1040)"/>
<ellipse cx="500" cy="1065" rx="31.2" ry="31.2" fill="#50dcff" fill-opacity="0.90"/>
<ellipse cx="487" cy="1088" rx="34.1" ry="25.5" fill="#50dcff" fill-opacity="0.90"/>
<ellipse cx="556" cy="1073" rx="34.1" ry="31.2" fill="#50dcff" fill-opacity="0.90"/>
<ellipse cx="582" cy="945" rx="54.4" ry="68.1" fill="#a8ecf8" fill-opacity="0.68"/>
<ellipse cx="491" cy="905" rx="41.5" ry="35.9" fill="#a8ecf8" fill-opacity="0.68"/>
<ellipse cx="520" cy="1090" rx="80.4" ry="40.2" fill="#a8ecf8" fill-opacity="0.68"/>
<ellipse cx="590" cy="1082" rx="17.0" ry="19.9" fill="#50dcff" fill-opacity="0.90"/>
<ellipse cx="256.8" cy="737.5" rx="30.2" ry="23.2" fill="#c4f4a0" fill-opacity="0.90" transform="rotate(40 256.8 737.5)"/>
<ellipse cx="222" cy="772" rx="25.2" ry="34.4" fill="#d8f4bc" fill-opacity="0.45" transform="rotate(20 222 772)"/>
<ellipse cx="175" cy="913" rx="30.2" ry="37.2" fill="#c4f4a0" fill-opacity="0.90" transform="rotate(-20 175 913)"/>
<ellipse cx="140" cy="868" rx="18.6" ry="32.5" fill="#c4f4a0" fill-opacity="0.90"/>
<ellipse cx="262" cy="908" rx="34.8" ry="32.5" fill="#c4f4a0" fill-opacity="0.90"/>
<ellipse cx="339" cy="960" rx="18.6" ry="63.9" fill="#c4f4a0" fill-opacity="0.90"/>
<ellipse cx="322" cy="1032" rx="25.5" ry="30.2" fill="#c4f4a0" fill-opacity="0.90"/>
<ellipse cx="235" cy="1060" rx="27.9" ry="25.5" fill="#c4f4a0" fill-opacity="0.90"/>
<ellipse cx="207" cy="1054" rx="25.5" ry="23.2" fill="#c4f4a0" fill-opacity="0.90"/>
<ellipse cx="170" cy="1030" rx="27.9" ry="23.3" fill="#d8f4bc" fill-opacity="0.45"/>
<ellipse cx="226" cy="1000" rx="29.8" ry="18.4" fill="#d8f4bc" fill-opacity="0.45"/>
<ellipse cx="300" cy="832" rx="20.4" ry="40.7" fill="#d8f4bc" fill-opacity="0.45" transform="rotate(-25 300 832)"/>
<ellipse cx="166" cy="974" rx="27.1" ry="22.6" fill="#d8f4bc" fill-opacity="0.45"/>
<ellipse cx="270" cy="1095" rx="43.9" ry="24.1" fill="#d8f4bc" fill-opacity="0.45"/>
<ellipse cx="452" cy="775" rx="25.5" ry="63.9" fill="#c4f4a0" fill-opacity="0.90" transform="rotate(35 452 775)"/>
<ellipse cx="512" cy="783" rx="32.5" ry="30.2" fill="#c4f4a0" fill-opacity="0.90"/>
<ellipse cx="530" cy="844" rx="18.6" ry="25.5" fill="#c4f4a0" fill-opacity="0.90"/>
<ellipse cx="586" cy="887" rx="30.2" ry="32.5" fill="#c4f4a0" fill-opacity="0.90"/>
<ellipse cx="400" cy="985" rx="16.3" ry="75.5" fill="#c4f4a0" fill-opacity="0.90"/>
<ellipse cx="421" cy="1040" rx="21.0" ry="34.9" fill="#d8f4bc" fill-opacity="0.45" transform="rotate(-30 421 1040)"/>
<ellipse cx="500" cy="1065" rx="25.5" ry="25.5" fill="#c4f4a0" fill-opacity="0.90"/>
<ellipse cx="487" cy="1088" rx="27.9" ry="20.9" fill="#c4f4a0" fill-opacity="0.90"/>
<ellipse cx="556" cy="1073" rx="27.9" ry="25.5" fill="#c4f4a0" fill-opacity="0.90"/>
<ellipse cx="582" cy="945" rx="44.5" ry="55.7" fill="#d8f4bc" fill-opacity="0.45"/>
<ellipse cx="491" cy="905" rx="33.9" ry="29.4" fill="#d8f4bc" fill-opacity="0.45"/>
<ellipse cx="520" cy="1090" rx="65.8" ry="32.9" fill="#d8f4bc" fill-opacity="0.45"/>
<ellipse cx="590" cy="1082" rx="13.9" ry="16.3" fill="#c4f4a0" fill-opacity="0.90"/>
<ellipse cx="256.8" cy="737.5" rx="23.5" ry="18.1" fill="#fbf090" fill-opacity="1.00" transform="rotate(40 256.8 737.5)"/>
<ellipse cx="222" cy="772" rx="19.9" ry="27.1" fill="#fbf090" fill-opacity="1.00" transform="rotate(20 222 772)"/>
<ellipse cx="175" cy="913" rx="23.5" ry="28.9" fill="#fbf090" fill-opacity="1.00" transform="rotate(-20 175 913)"/>
<ellipse cx="140" cy="868" rx="14.4" ry="25.3" fill="#fbf090" fill-opacity="1.00"/>
<ellipse cx="262" cy="908" rx="27.1" ry="25.3" fill="#fbf090" fill-opacity="1.00"/>
<ellipse cx="339" cy="960" rx="14.4" ry="49.7" fill="#fbf090" fill-opacity="1.00"/>
<ellipse cx="322" cy="1032" rx="19.9" ry="23.5" fill="#fbf090" fill-opacity="1.00"/>
<ellipse cx="235" cy="1060" rx="21.7" ry="19.9" fill="#fbf090" fill-opacity="1.00"/>
<ellipse cx="207" cy="1054" rx="19.9" ry="18.1" fill="#fbf090" fill-opacity="1.00"/>
<ellipse cx="170" cy="1030" rx="21.7" ry="18.1" fill="#fbf090" fill-opacity="1.00"/>
<ellipse cx="226" cy="1000" rx="23.5" ry="14.4" fill="#fbf090" fill-opacity="1.00"/>
<ellipse cx="452" cy="775" rx="19.9" ry="49.7" fill="#fbf090" fill-opacity="1.00" transform="rotate(35 452 775)"/>
<ellipse cx="512" cy="783" rx="25.3" ry="23.5" fill="#fbf090" fill-opacity="1.00"/>
<ellipse cx="530" cy="844" rx="14.4" ry="19.9" fill="#fbf090" fill-opacity="1.00"/>
<ellipse cx="586" cy="887" rx="23.5" ry="25.3" fill="#fbf090" fill-opacity="1.00"/>
<ellipse cx="400" cy="985" rx="12.6" ry="58.7" fill="#fbf090" fill-opacity="1.00"/>
<ellipse cx="421" cy="1040" rx="16.3" ry="27.1" fill="#fbf090" fill-opacity="1.00" transform="rotate(-30 421 1040)"/>
<ellipse cx="500" cy="1065" rx="19.9" ry="19.9" fill="#fbf090" fill-opacity="1.00"/>
<ellipse cx="487" cy="1088" rx="21.7" ry="16.3" fill="#fbf090" fill-opacity="1.00"/>
<ellipse cx="556" cy="1073" rx="21.7" ry="19.9" fill="#fbf090" fill-opacity="1.00"/>
<ellipse cx="590" cy="1082" rx="10.8" ry="12.6" fill="#fbf090" fill-opacity="1.00"/>
<ellipse cx="256.8" cy="737.5" rx="16.5" ry="12.7" fill="#fbc68e" fill-opacity="1.00" transform="rotate(40 256.8 737.5)"/>
<ellipse cx="175" cy="913" rx="16.5" ry="20.4" fill="#fbc68e" fill-opacity="1.00" transform="rotate(-20 175 913)"/>
<ellipse cx="262" cy="908" rx="19.1" ry="17.8" fill="#fbc68e" fill-opacity="1.00"/>
<ellipse cx="339" cy="960" rx="10.2" ry="35.0" fill="#fbc68e" fill-opacity="1.00"/>
<ellipse cx="322" cy="1032" rx="14.0" ry="16.5" fill="#fbc68e" fill-opacity="1.00"/>
<ellipse cx="235" cy="1060" rx="15.3" ry="14.0" fill="#fbc68e" fill-opacity="1.00"/>
<ellipse cx="207" cy="1054" rx="14.0" ry="12.7" fill="#fbc68e" fill-opacity="1.00"/>
<ellipse cx="452" cy="775" rx="14.0" ry="35.0" fill="#fbc68e" fill-opacity="1.00" transform="rotate(35 452 775)"/>
<ellipse cx="512" cy="783" rx="17.8" ry="16.5" fill="#fbc68e" fill-opacity="1.00"/>
<ellipse cx="530" cy="844" rx="10.2" ry="14.0" fill="#fbc68e" fill-opacity="1.00"/>
<ellipse cx="586" cy="887" rx="16.5" ry="17.8" fill="#fbc68e" fill-opacity="1.00"/>
<ellipse cx="400" cy="985" rx="8.9" ry="41.4" fill="#fbc68e" fill-opacity="1.00"/>
<ellipse cx="500" cy="1065" rx="14.0" ry="14.0" fill="#fbc68e" fill-opacity="1.00"/>
<ellipse cx="487" cy="1088" rx="15.3" ry="11.5" fill="#fbc68e" fill-opacity="1.00"/>
<ellipse cx="556" cy="1073" rx="15.3" ry="14.0" fill="#fbc68e" fill-opacity="1.00"/>
<ellipse cx="175" cy="913" rx="10.1" ry="12.4" fill="#f59a8a" fill-opacity="1.00" transform="rotate(-20 175 913)"/>
<ellipse cx="339" cy="960" rx="6.2" ry="21.3" fill="#f59a8a" fill-opacity="1.00"/>
<ellipse cx="322" cy="1032" rx="8.5" ry="10.1" fill="#f59a8a" fill-opacity="1.00"/>
<ellipse cx="235" cy="1060" rx="9.3" ry="8.5" fill="#f59a8a" fill-opacity="1.00"/>
<ellipse cx="512" cy="783" rx="10.8" ry="10.1" fill="#f59a8a" fill-opacity="1.00"/>
<ellipse cx="586" cy="887" rx="10.1" ry="10.8" fill="#f59a8a" fill-opacity="1.00"/>
<ellipse cx="556" cy="1073" rx="9.3" ry="8.5" fill="#f59a8a" fill-opacity="1.00"/>
</g>
</g>
</g>
<g fill="none" stroke="#0a0a0a" stroke-width="1.5" stroke-dasharray="9 5">
<path d="M233.8 717.2 L300.1 705.0 L350.0 714.6 L353.0 720.2 L353.0 1077.8"/>
<path d="M233.8 717.2 L317.4 787.4 L317.4 830.7 L328.3 882.8 L353.0 926.1"/>
<path d="M180.9 757.0 L248.1 822.1 L300.1 882.8 L317.4 934.8 L308.8 969.5"/>
<path d="M165.7 833.0 L165.7 806.9 L193.9 806.9 L206.9 839.4 L206.9 882.8"/>
<path d="M133.2 845.9 L131.0 943.4 L144.0 960.8"/>
<path d="M217.7 917.4 L217.7 973.8"/>
<path d="M213.4 839.4 L213.4 891.4 L230.7 913.1"/>
<path d="M248.1 908.8 L265.4 887.1 L291.4 895.8 L300.1 917.4 L287.1 930.4 L256.8 926.1"/>
<path d="M232.9 917.4 L235.1 960.8 L282.8 967.3 L295.8 963.0 L317.4 934.8"/>
<path d="M191.7 1008.5 L243.7 978.1 L313.1 978.1 L313.1 1008.5 L144.0 1008.5 L144.0 1129.9"/>
<path d="M313.1 1008.5 L306.6 1082.2"/>
<path d="M109.4 1060.5 L94.2 1058.3 L94.2 982.5 L111.5 973.8 L148.4 1021.5 L139.7 1030.1"/>
<path d="M243.7 1008.5 L213.4 1030.1 L191.7 1073.5 L178.7 1134.2"/>
<path d="M247.7 1010.5 L217.4 1032.1 L195.7 1075.5 L182.7 1136.2"/>
<path d="M252.4 1017.1 L282.8 1069.2 L300.1 1108.2"/>
<path d="M353.0 1077.8 L300.1 1106.0 L222.1 1142.9 L183.1 1138.5 L152.7 1129.9"/>
<path d="M180.9 908.8 L152.7 934.8 L141.9 969.5 L161.4 999.8 L191.7 1008.5"/>
<path d="M160.0 838.0 L200.0 900.0 L228.0 935.0"/>
<path d="M399.8 1077.8 L399.8 720.2 L430.2 705.0 L499.5 705.0 L521.2 726.7"/>
<path d="M521.2 726.7 L447.5 787.4 L441.0 856.8 L425.8 921.8 L421.5 965.1"/>
<path d="M516.0 734.0 L452.0 790.0 L445.0 858.0 L430.0 923.0"/>
<path d="M555.9 917.4 L560.2 865.4 L560.2 806.9 L601.4 806.9 L601.4 835.1"/>
<path d="M603.6 826.4 L629.6 861.1 L629.6 943.4 L620.9 969.5"/>
<path d="M551.5 813.4 L473.5 887.1 L456.2 921.8 L447.5 952.1 L469.2 969.5 L521.2 960.8 L534.2 900.1 L508.2 930.4 L482.2 930.4 L469.2 904.4 L500.0 880.0"/>
<path d="M555.9 917.4 L603.6 908.8 L620.9 934.8 L620.9 969.5 L599.2 1004.1 L560.2 1008.5"/>
<path d="M447.5 982.5 L508.2 982.5 L560.2 1008.5"/>
<path d="M458.3 1112.5 L458.3 1008.5 L607.9 1012.8 L607.9 1125.5 L581.9 1129.9 L581.9 1073.5"/>
<path d="M646.9 982.5 L664.2 999.8 L664.2 1030.1 L646.9 1056.2 L620.9 1030.1"/>
<path d="M516.9 1017.1 L495.2 1056.2 L473.5 1099.5"/>
<path d="M521.0 1019.0 L499.2 1058.2 L477.5 1101.5"/>
<path d="M538.5 1017.1 L573.2 1064.8 L581.9 1073.5"/>
<path d="M399.8 1077.8 L456.2 1112.5 L516.9 1142.9 L551.5 1138.5 L581.9 1129.9"/>
<path d="M590.0 830.0 L520.0 900.0 L500.0 960.0"/>
</g>
<g filter="url(#nop)">
<text x="322.6" y="816.9" font-size="21" font-weight="bold" fill="#0a0a0a">M2</text>
<text x="276.3" y="844.6" font-size="21" font-weight="bold" fill="#0a0a0a">M1</text>
<text x="170.0" y="838.5" font-size="21" font-weight="bold" fill="#0a0a0a">LS</text>
<text x="219.9" y="881.9" font-size="21" font-weight="bold" fill="#0a0a0a">FL</text>
<text x="143.2" y="894.0" font-size="21" font-weight="bold" fill="#0a0a0a">AS</text>
<text x="256.8" y="918.3" font-size="21" font-weight="bold" fill="#0a0a0a">HL</text>
<text x="265.4" y="957.8" font-size="21" font-weight="bold" fill="#0a0a0a">T</text>
<text x="154.9" y="958.6" font-size="21" font-weight="bold" fill="#0a0a0a">barrel</text>
<text x="247.2" y="1002.0" font-size="21" font-weight="bold" fill="#0a0a0a">PPC</text>
<text x="312.2" y="1016.3" font-size="21" font-weight="bold" fill="#0a0a0a">RSA</text>
<text x="99.8" y="1028.0" font-size="21" font-weight="bold" fill="#0a0a0a">A1</text>
<text x="162.7" y="1043.2" font-size="21" font-weight="bold" fill="#0a0a0a">V2L</text>
<text x="261.1" y="1043.2" font-size="21" font-weight="bold" fill="#0a0a0a">V2M</text>
<text x="228.6" y="1071.3" font-size="21" font-weight="bold" fill="#0a0a0a">V1</text>
</g>
<rect x="639" y="704.6" width="27" height="141.1" fill="url(#jet)"/>
<path d="M639 831.6 h4 M666 831.6 h-4" stroke="#222" stroke-width="0.8" stroke-opacity="0.7"/>
<path d="M639 817.5 h4 M666 817.5 h-4" stroke="#222" stroke-width="0.8" stroke-opacity="0.7"/>
<path d="M639 803.4 h4 M666 803.4 h-4" stroke="#222" stroke-width="0.8" stroke-opacity="0.7"/>
<path d="M639 789.3 h4 M666 789.3 h-4" stroke="#222" stroke-width="0.8" stroke-opacity="0.7"/>
<path d="M639 775.2 h4 M666 775.2 h-4" stroke="#222" stroke-width="0.8" stroke-opacity="0.7"/>
<path d="M639 761.0 h4 M666 761.0 h-4" stroke="#222" stroke-width="0.8" stroke-opacity="0.7"/>
<path d="M639 746.9 h4 M666 746.9 h-4" stroke="#222" stroke-width="0.8" stroke-opacity="0.7"/>
<path d="M639 732.8 h4 M666 732.8 h-4" stroke="#222" stroke-width="0.8" stroke-opacity="0.7"/>
<path d="M639 718.7 h4 M666 718.7 h-4" stroke="#222" stroke-width="0.8" stroke-opacity="0.7"/>
<text x="572.6" y="699.8" font-size="24.5" letter-spacing="0.5" fill="#231f20">Norm.</text>
<text x="572.8" y="729.6" font-size="24.5" letter-spacing="0.5" fill="#231f20">Freq.</text>
<text x="667.5" y="713.3" font-size="23.5" fill="#231f20">1</text>
<text x="668.2" y="769.4" font-size="23.5" letter-spacing="1" fill="#231f20">0.6</text>
<text x="668.2" y="825.3" font-size="23.5" letter-spacing="1" fill="#231f20">0.2</text>
</svg></body></html>
